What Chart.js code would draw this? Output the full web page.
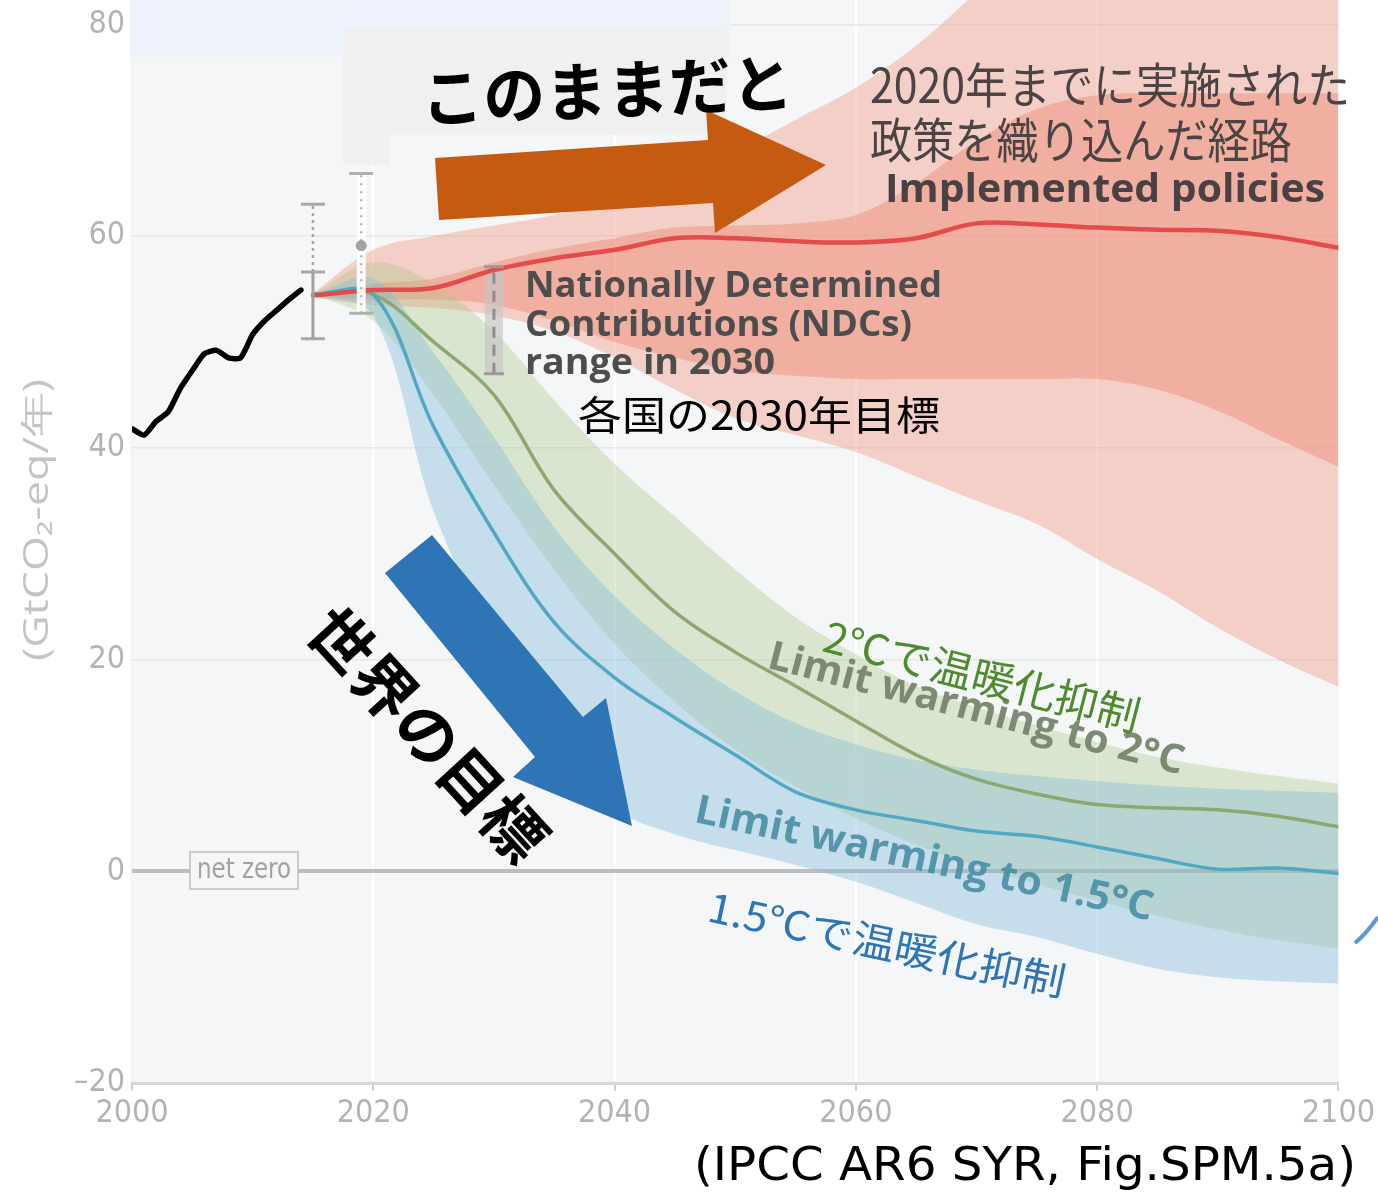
<!DOCTYPE html>
<html lang="ja">
<head>
<meta charset="utf-8">
<title>世界の温室効果ガス排出経路</title>
<script src="https://cdn.jsdelivr.net/npm/chart.js@4/dist/chart.umd.min.js"></script>
<style>
  html, body { margin: 0; padding: 0; background: #ffffff; }
  canvas { display: block; }
</style>
</head>
<body>
<canvas id="chart" width="1378" height="1194"></canvas>
<script>
// ---- data (GtCO2-eq per year) ----
const histYears = [2000, 2001, 2002, 2003, 2004, 2005, 2006, 2007, 2008, 2009, 2010, 2011, 2012, 2013, 2014];
const histEmissions = [41.8, 41.2, 42.5, 43.4, 45.6, 47.3, 48.9, 49.2, 48.5, 48.5, 50.7, 52.0, 53.0, 54.0, 54.9];

const pathYears = [2015, 2020, 2025, 2030, 2035, 2040, 2045, 2050, 2055, 2060, 2065, 2070, 2075, 2080, 2085, 2090, 2095, 2100];

// Implemented policies
const policyMedian    = [54.4, 54.9, 55.1, 56.8, 57.9, 58.7, 59.8, 59.8, 59.5, 59.4, 59.8, 61.2, 61.1, 60.8, 60.6, 60.5, 59.9, 58.9];
const policyOuterHigh = [54.6, 58.7, 60.0, 61.0, 62.0, 63.5, 65.5, 68.0, 71.0, 74.0, 78.0, 83.0, 88.0, 92.0, 95.0, 98.0, 100.0, 102.0];
const policyInnerHigh = [54.5, 55.5, 56.0, 57.5, 58.8, 59.8, 60.8, 61.0, 61.2, 62.0, 65.0, 69.0, 72.0, 73.3, 73.5, 73.5, 73.5, 73.5];
const policyInnerLow  = [54.3, 54.0, 54.0, 53.5, 52.0, 50.0, 48.5, 47.3, 46.8, 46.5, 46.5, 46.5, 46.5, 46.5, 45.5, 43.5, 40.8, 38.2];
const policyOuterLow  = [54.2, 53.5, 53.2, 52.5, 51.0, 48.5, 45.5, 42.8, 41.2, 39.6, 37.3, 35.0, 32.8, 29.5, 26.5, 23.0, 20.0, 17.4];

// Limit warming to 2°C
const c2Median = [54.5, 54.5, 50.0, 45.0, 36.0, 30.0, 24.5, 20.7, 17.5, 14.2, 11.0, 8.7, 7.3, 6.3, 6.0, 5.8, 5.2, 4.2];
const c2High   = [54.5, 57.5, 55.5, 51.0, 44.5, 38.5, 33.5, 28.5, 24.0, 20.5, 17.5, 15.5, 13.8, 12.2, 10.8, 9.8, 9.0, 8.3];
const c2Low    = [54.5, 52.0, 45.0, 36.5, 28.5, 21.5, 16.0, 11.5, 8.0, 5.0, 2.5, 0.5, -1.2, -2.8, -4.2, -5.5, -6.5, -7.3];

// Limit warming to 1.5°C
const c15Median = [54.5, 54.5, 42.0, 32.0, 23.5, 18.3, 14.5, 11.0, 7.5, 5.8, 4.8, 3.8, 3.3, 2.3, 1.2, 0.2, 0.3, -0.2];
const c15High   = [54.5, 56.0, 49.0, 41.0, 32.5, 26.0, 21.0, 17.0, 14.0, 12.0, 10.5, 9.6, 9.0, 8.5, 8.1, 7.8, 7.6, 7.4];
const c15Low    = [54.5, 52.5, 34.0, 22.0, 13.5, 6.0, 3.5, 2.0, 0.6, -1.0, -3.0, -5.0, -6.2, -7.8, -9.2, -10.0, -10.4, -10.6];

// Uncertainty ranges: 2015 estimate, 2019 estimate, NDC range in 2030
const rangeYears = [2015, 2019, 2030];
const rangeLow   = [50.3, 52.7, 47.0];
const rangeMid   = [56.6, 59.1, null];
const rangeHigh  = [63.0, 65.9, 57.1];

// axis ticks
const xTicks = [2000, 2020, 2040, 2060, 2080, 2100];
const yTicks = [-20, 0, 20, 40, 60, 80];

// ---- helpers ----
const pts = (xs, ys) => xs.map((x, i) => ({ x: x, y: ys[i] }));
const seg = (x, y0, y1) => [{ x: x, y: y0 }, { x: x, y: y1 }];

const band = (hi, lo, color, order) => ([
  { data: pts(pathYears, hi), borderWidth: 0, borderColor: 'rgba(0,0,0,0)', backgroundColor: color,
    fill: '+1', pointRadius: 0, tension: 0.35, order: order },
  { data: pts(pathYears, lo), borderWidth: 0, borderColor: 'rgba(0,0,0,0)', fill: false,
    pointRadius: 0, tension: 0.35, order: order }
]);

const line = (ys, color, width, order) => ({
  data: pts(pathYears, ys), borderColor: color, borderWidth: width, fill: false,
  pointRadius: 0, tension: 0.35, borderCapStyle: 'round', borderJoinStyle: 'round', order: order
});

const caps = (points, color, radius, width, order) => ({
  data: points, showLine: false, pointStyle: 'line', pointRadius: radius,
  pointBorderColor: color, pointBorderWidth: width, order: order
});

const datasets = [
  ...band(policyOuterHigh, policyOuterLow, 'rgba(240,150,125,0.40)', 30),
  ...band(policyInnerHigh, policyInnerLow, 'rgba(238,128,104,0.40)', 29),
  ...band(c2High, c2Low, 'rgba(168,196,128,0.34)', 28),
  ...band(c15High, c15Low, 'rgba(128,188,214,0.40)', 27),

  // NDC range bar (2030)
  { data: seg(rangeYears[2], rangeLow[2], rangeHigh[2]), borderColor: 'rgba(196,196,196,0.65)', borderWidth: 18,
    pointRadius: 0, fill: false, order: 26 },
  { data: seg(rangeYears[2], rangeLow[2], rangeHigh[2]), borderColor: '#8e8e8e', borderWidth: 3,
    borderDash: [11, 7], pointRadius: 0, fill: false, order: 4 },
  caps([{ x: rangeYears[2], y: rangeLow[2] }, { x: rangeYears[2], y: rangeHigh[2] }], '#9a9a9a', 10, 3, 4),

  line(c2Median, '#8aa870', 3.5, 12),
  line(c15Median, '#4fa9c2', 3.5, 11),
  line(policyMedian, '#e44b4b', 4.5, 10),

  // historical emissions
  { data: pts(histYears, histEmissions), borderColor: '#000000', borderWidth: 5.5, fill: false,
    pointRadius: 0, tension: 0.2, borderCapStyle: 'round', borderJoinStyle: 'round', order: 5 },

  // 2015 range
  { data: seg(rangeYears[0], rangeMid[0], rangeHigh[0]), borderColor: '#a6a6a6', borderWidth: 2.5,
    borderDash: [3, 4], pointRadius: 0, fill: false, order: 3 },
  { data: seg(rangeYears[0], rangeLow[0], rangeMid[0]), borderColor: '#a0a0a0', borderWidth: 3,
    pointRadius: 0, fill: false, order: 3 },
  caps(pts([rangeYears[0], rangeYears[0], rangeYears[0]], [rangeLow[0], rangeMid[0], rangeHigh[0]]), '#a8a8a8', 12, 3, 3),

  // 2019 range
  { data: seg(rangeYears[1], rangeLow[1], rangeHigh[1]), borderColor: 'rgba(255,255,255,0.92)', borderWidth: 9,
    pointRadius: 0, fill: false, order: 6 },
  { data: seg(rangeYears[1], rangeLow[1], rangeHigh[1]), borderColor: '#b4b4b4', borderWidth: 2.5,
    borderDash: [2, 6], pointRadius: 0, fill: false, order: 2 },
  caps([{ x: rangeYears[1], y: rangeLow[1] }, { x: rangeYears[1], y: rangeHigh[1] }], '#b0b0b0', 12, 3, 2),
  { data: [{ x: rangeYears[1], y: rangeMid[1] }], showLine: false, pointStyle: 'circle', pointRadius: 5.5,
    pointBackgroundColor: '#a3a3a3', pointBorderWidth: 0, order: 1 }
];

// ---- drawing helpers for annotations ----
function drawLabel(ctx, text, x, y, o) {
  ctx.save();
  ctx.translate(x, y);
  if (o.angle) ctx.rotate(o.angle * Math.PI / 180);
  ctx.font = o.font;
  ctx.fillStyle = o.color;
  ctx.textBaseline = 'middle';
  ctx.textAlign = o.align || 'center';
  if (o.width) {
    const w = ctx.measureText(text).width;
    ctx.scale(o.width / w, 1);
  }
  ctx.fillText(text, 0, 0);
  ctx.restore();
}

function polygon(ctx, p, color) {
  ctx.beginPath();
  ctx.moveTo(p[0][0], p[0][1]);
  for (let i = 1; i < p.length; i++) ctx.lineTo(p[i][0], p[i][1]);
  ctx.closePath();
  ctx.fillStyle = color;
  ctx.fill();
}

const JP = '"Noto Sans CJK JP", "Noto Sans", sans-serif';
const LAT = '"Open Sans", "Noto Sans", sans-serif';
const NARROW = '"Liberation Sans Narrow", "DejaVu Sans Condensed", "Roboto", sans-serif';

const backdrop = {
  id: 'backdrop',
  beforeDraw(chart) {
    const { ctx, chartArea: a } = chart;
    ctx.save();
    ctx.fillStyle = '#ffffff';
    ctx.fillRect(0, 0, chart.width, chart.height);
    ctx.fillStyle = '#f5f6f8';
    ctx.fillRect(a.left - 2, 0, a.right - a.left + 3, a.bottom);
    ctx.restore();
  }
};

const overlay = {
  id: 'overlay',
  afterDraw(chart) {
    const ctx = chart.ctx;
    ctx.save();

    // header panels
    ctx.fillStyle = '#eef3fb';
    ctx.fillRect(130, 0, 600, 57);
    ctx.fillStyle = '#f0f0f0';
    ctx.fillRect(343, 27, 384, 108);
    ctx.fillRect(343, 135, 47, 30);

    // net zero tag
    ctx.fillStyle = '#f5f6f8';
    ctx.fillRect(190, 852, 108, 37);
    ctx.strokeStyle = '#bdbdbd';
    ctx.lineWidth = 1.5;
    ctx.strokeRect(190, 852, 108, 37);
    drawLabel(ctx, 'net zero', 244, 871, { font: '28px ' + NARROW, color: '#a2a2a2', width: 94 });

    // axis title
    drawLabel(ctx, '(GtCO₂-eq/年)', 38, 520, { font: '34px ' + LAT, color: '#c4c4c4', angle: -90, width: 282 });

    // arrows
    polygon(ctx, [[435, 158], [708, 140], [706, 110], [826, 165], [715, 233], [713, 203], [439, 220]], '#c55a11');
    polygon(ctx, [[432, 535], [583, 717], [606, 698], [632, 826], [513, 777], [535, 757], [385, 573]], '#2e75b6');

    // headline texts
    drawLabel(ctx, 'このままだと', 607, 90, { font: 'bold 64px ' + JP, color: '#000000', angle: -2.5, width: 372 });
    drawLabel(ctx, '世界の目標', 428, 734, { font: 'bold 62px ' + JP, color: '#000000', angle: 47.5, width: 318 });

    // implemented policies label
    drawLabel(ctx, '2020年までに実施された', 870, 85, { font: '48px ' + JP, color: '#4a4444', align: 'left', width: 480 });
    drawLabel(ctx, '政策を織り込んだ経路', 870, 140, { font: '48px ' + JP, color: '#4a4444', align: 'left', width: 422 });
    drawLabel(ctx, 'Implemented policies', 885, 191, { font: 'bold 40px ' + LAT, color: '#4a4242', align: 'left', width: 440 });

    // NDC label
    drawLabel(ctx, 'Nationally Determined', 525, 287, { font: 'bold 36px ' + LAT, color: '#4d4d4d', align: 'left', width: 417 });
    drawLabel(ctx, 'Contributions (NDCs)', 525, 326, { font: 'bold 36px ' + LAT, color: '#4d4d4d', align: 'left', width: 387 });
    drawLabel(ctx, 'range in 2030', 525, 364, { font: 'bold 36px ' + LAT, color: '#4d4d4d', align: 'left', width: 250 });
    drawLabel(ctx, '各国の2030年目標', 578, 415, { font: '40px ' + JP, color: '#000000', align: 'left', width: 362 });

    // pathway labels
    drawLabel(ctx, 'Limit warming to 2°C', 976, 710, { font: 'bold 40px ' + LAT, color: 'rgba(112,128,102,0.9)', angle: 14.5, width: 428 });
    drawLabel(ctx, '2℃で温暖化抑制', 982, 676, { font: '42px ' + JP, color: '#4e8b2f', angle: 14.5, width: 325 });
    drawLabel(ctx, 'Limit warming to 1.5°C', 924, 860, { font: 'bold 40px ' + LAT, color: 'rgba(72,142,164,0.9)', angle: 12.2, width: 468 });
    drawLabel(ctx, '1.5℃で温暖化抑制', 887, 944, { font: '40px ' + JP, color: '#2e75b6', angle: 12, width: 364 });

    // source
    drawLabel(ctx, '(IPCC AR6 SYR, Fig.SPM.5a)', 694, 1168, { font: '46px "DejaVu Sans", sans-serif', color: '#000000', align: 'left', width: 662 });

    // partial callout ring at the right edge
    ctx.beginPath();
    ctx.moveTo(1355, 943);
    ctx.quadraticCurveTo(1366, 934, 1378, 917);
    ctx.strokeStyle = '#5b9bd5';
    ctx.lineWidth = 4;
    ctx.stroke();

    ctx.restore();
  }
};

new Chart(document.getElementById('chart'), {
  type: 'line',
  data: { datasets: datasets },
  options: {
    responsive: false,
    devicePixelRatio: 1,
    animation: false,
    events: [],
    layout: { autoPadding: false, padding: { left: 0, right: 39, top: 0, bottom: 51 } },
    plugins: { legend: { display: false }, tooltip: { enabled: false } },
    scales: {
      x: {
        type: 'linear', min: 2000, max: 2100,
        afterBuildTicks: s => { s.ticks = xTicks.map(v => ({ value: v })); },
        afterFit: s => { s.height = 60; },
        ticks: { color: '#b3b3b3', font: { family: NARROW, size: 32 }, padding: 3, maxRotation: 0, autoSkip: false,
          callback: v => String(v) },
        grid: {
          color: c => (c.tick && (c.tick.value === 2000 || c.tick.value === 2100)) ? 'rgba(0,0,0,0)' : 'rgba(255,255,255,0.95)',
          lineWidth: 2, tickColor: '#cfcfcf', tickLength: 8, tickWidth: 2
        },
        border: { display: true, color: '#d6d6d6', width: 3 }
      },
      y: {
        type: 'linear', min: -20, max: 82.3,
        afterBuildTicks: s => { s.ticks = yTicks.map(v => ({ value: v })); },
        // fixed axis width; the plot runs up to the canvas top
        afterFit: s => { s.width = 132; s.paddingTop = 0; s.paddingBottom = 0; },
        ticks: {
          color: '#b3b3b3', font: { family: NARROW, size: 32 }, padding: 7, autoSkip: false,
          callback: v => (v < 0 ? '–' + Math.abs(v) : String(v))
        },
        grid: {
          drawTicks: false,
          color: c => c.tick.value === 0 ? '#bdbdbd' : (c.tick.value === -20 ? 'rgba(0,0,0,0)' : '#e5e6e9'),
          lineWidth: c => c.tick.value === 0 ? 4 : 1.5
        },
        border: { display: false }
      }
    }
  },
  plugins: [backdrop, overlay]
});
</script>
</body>
</html>
